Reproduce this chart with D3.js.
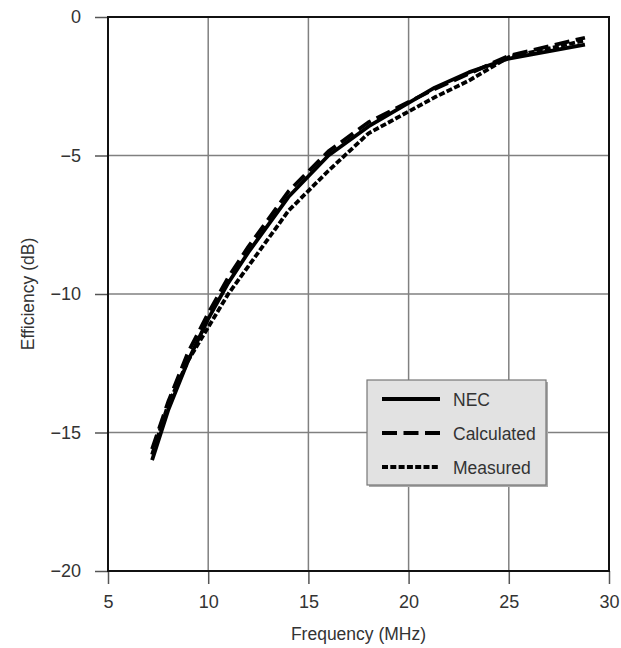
<!DOCTYPE html>
<html>
<head>
<meta charset="utf-8">
<script src="https://cdn.jsdelivr.net/npm/d3@7/dist/d3.min.js"></script>
<style>
  html, body { margin:0; padding:0; background:#fff; }
  svg text { font-family: "Liberation Sans", Arial, sans-serif; fill:#333; }
</style>
</head>
<body>
<div id="chart"></div>
<script>
// frequency points (MHz) and efficiency (dB)
const freq       = [7.2, 8, 9, 10, 11, 12, 14, 16, 18, 21.3, 23, 25, 28.8];
const nec        = [-16.0, -14.2, -12.4, -10.9, -9.6, -8.5, -6.5, -5.0, -3.95, -2.55, -2.0, -1.5, -1.0];
const calculated = [-15.6, -13.9, -12.1, -10.7, -9.4, -8.3, -6.3, -4.85, -3.8, -2.6, -2.05, -1.4, -0.75];
const measured   = [-15.8, -14.0, -12.4, -11.2, -10.0, -9.0, -7.0, -5.55, -4.2, -2.9, -2.3, -1.45, -0.85];
const xTicks = [5, 10, 15, 20, 25, 30];
const yTicks = [0, -5, -10, -15, -20];

(function(){
  const width = 621, height = 648;
  const margin = { top: 17, right: 12, bottom: 77, left: 108 };

  const svg = d3.select('#chart').append('svg')
    .attr('width', width).attr('height', height);

  const x = d3.scaleLinear().domain([5, 30]).range([margin.left, width - margin.right]);
  const y = d3.scaleLinear().domain([-20, 0]).range([height - margin.bottom, margin.top]);

  // grid
  svg.append('g').selectAll('line').data(xTicks.slice(1, -1)).enter().append('line')
    .attr('x1', d=>x(d)).attr('x2', d=>x(d))
    .attr('y1', y(0)).attr('y2', y(-20))
    .attr('stroke', '#808080').attr('stroke-width', 1.5);
  svg.append('g').selectAll('line').data(yTicks.slice(1, -1)).enter().append('line')
    .attr('y1', d=>y(d)).attr('y2', d=>y(d))
    .attr('x1', x(5)).attr('x2', x(30))
    .attr('stroke', '#808080').attr('stroke-width', 1.5);

  const fmt = d => d < 0 ? '\u2212' + Math.abs(d) : String(d);

  const xAxis = g => g
    .attr('transform', `translate(0,${y(-20)})`)
    .call(d3.axisBottom(x).tickValues(xTicks).tickFormat(fmt).tickSize(13).tickPadding(11))
    .call(g => g.select('.domain').remove())
    .call(g => g.selectAll('.tick line').attr('stroke', '#555').attr('stroke-width', 1.5))
    .call(g => g.selectAll('.tick text').attr('font-size', 18).attr('fill', '#333'));

  const yAxis = g => g
    .attr('transform', `translate(${x(5)},0)`)
    .call(d3.axisLeft(y).tickValues(yTicks).tickFormat(fmt).tickSize(13).tickPadding(14))
    .call(g => g.select('.domain').remove())
    .call(g => g.selectAll('.tick line').attr('stroke', '#555').attr('stroke-width', 1.5))
    .call(g => g.selectAll('.tick text').attr('font-size', 18).attr('fill', '#333'));

  svg.append('g').call(xAxis);
  svg.append('g').call(yAxis);

  // frame
  svg.append('rect')
    .attr('x', x(5)).attr('y', y(0))
    .attr('width', x(30) - x(5)).attr('height', y(-20) - y(0))
    .attr('fill', 'none').attr('stroke', '#111').attr('stroke-width', 2);

  const series = [
    { name: 'NEC', values: nec, dash: null },
    { name: 'Calculated', values: calculated, dash: '15,6.5' },
    { name: 'Measured', values: measured, dash: '6,2.3' }
  ];

  const line = d3.line().x(d=>x(d[0])).y(d=>y(d[1]));

  svg.append('g').selectAll('path').data(series).enter().append('path')
    .attr('d', s => line(freq.map((f,i)=>[f, s.values[i]])))
    .attr('fill', 'none')
    .attr('stroke', '#000')
    .attr('stroke-width', 3.8)
    .attr('stroke-linejoin', 'round')
    .attr('stroke-dasharray', s => s.dash);

  // axis titles
  svg.append('text')
    .attr('x', (x(5) + x(30)) / 2).attr('y', 640)
    .attr('text-anchor', 'middle').attr('font-size', 17.5)
    .text('Frequency (MHz)');
  svg.append('text')
    .attr('transform', `translate(34,${(y(0) + y(-20)) / 2}) rotate(-90)`)
    .attr('text-anchor', 'middle').attr('font-size', 17.5)
    .text('Efficiency (dB)');

  // legend
  const lg = svg.append('g').attr('transform', 'translate(367,380)');
  lg.append('rect').attr('x', 2).attr('y', 2).attr('width', 179).attr('height', 105).attr('fill', '#aaa');
  lg.append('rect').attr('width', 179).attr('height', 105)
    .attr('fill', '#e2e2e2').attr('stroke', '#777').attr('stroke-width', 1.2);
  const item = lg.selectAll('g.item').data(series).enter().append('g')
    .attr('transform', (d,i) => `translate(0,${19 + i * 34})`);
  item.append('line')
    .attr('x1', 15).attr('x2', 73).attr('y1', 0).attr('y2', 0)
    .attr('stroke', '#000').attr('stroke-width', 3.8)
    .attr('stroke-dasharray', d => d.dash);
  item.append('text')
    .attr('x', 86).attr('y', 6.5).attr('font-size', 17.5)
    .text(d => d.name);
})();
</script>
</body>
</html>
